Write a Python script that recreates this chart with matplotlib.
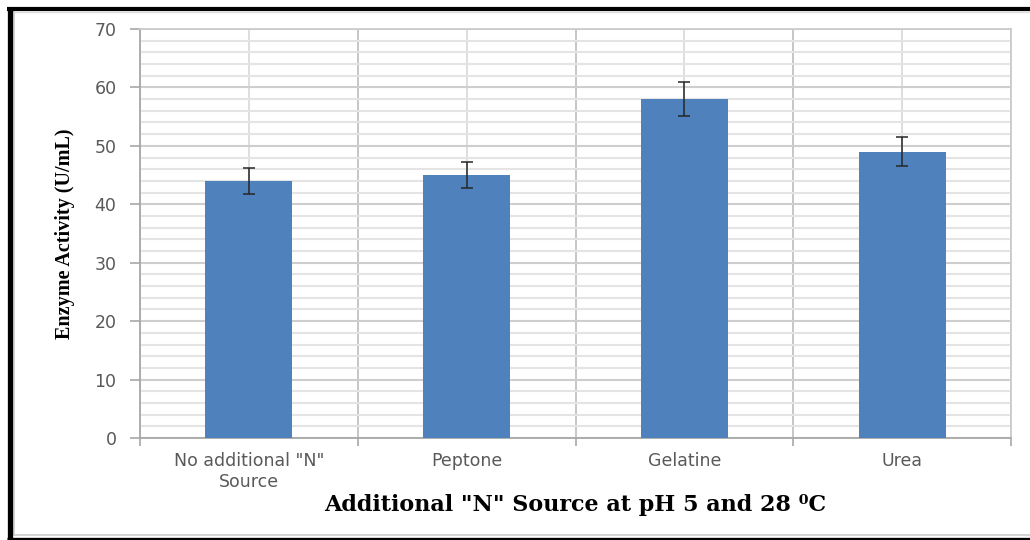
import matplotlib
matplotlib.use("Agg")
import matplotlib.pyplot as plt
from matplotlib.lines import Line2D
import numpy as np

# enzyme activity for each nitrogen source
sources = ['No additional "N"\nSource', 'Peptone', 'Gelatine', 'Urea']
activity = [44, 45, 58, 49]
errors = [2.2, 2.2, 2.9, 2.5]

bar_color = '#4F81BD'
tick_color = '#595959'

fig = plt.figure(figsize=(10.3, 5.4), dpi=100)
ax = fig.add_axes([140 / 1030, 1 - 438 / 540, 871 / 1030, 409 / 540])

x = np.arange(len(sources))
ax.bar(x, activity, width=0.4, color=bar_color, zorder=3)
ax.errorbar(x, activity, yerr=errors, fmt='none', ecolor='#262626',
            elinewidth=1.1, capsize=4.5, capthick=1.1, zorder=4)

ax.set_xlim(-0.5, len(sources) - 0.5)
ax.set_ylim(0, 70)

# horizontal grid: major every 10, minor every 2
ax.set_yticks(np.arange(0, 71, 10))
ax.set_yticks(np.arange(0, 71, 2), minor=True)
ax.grid(axis='y', which='minor', color='#e4e4e4', lw=1.5, zorder=0)
ax.grid(axis='y', which='major', color='#cecece', lw=1.5, zorder=1)

# vertical grid: category centres (light) and boundaries (darker)
ax.set_xticks(x)
ax.set_xticks(np.arange(len(sources) + 1) - 0.5, minor=True)
ax.grid(axis='x', which='major', color='#d8d8d8', lw=1.2, zorder=0)
ax.grid(axis='x', which='minor', color='#bcbcbc', lw=1.2, zorder=1)

ax.set_xticklabels(sources, fontsize=12.5, color=tick_color, family='DejaVu Sans',
                   linespacing=1.2)
ax.tick_params(axis='x', which='major', length=0, pad=10)
ax.tick_params(axis='x', which='minor', length=6, color='#a8a8a8', width=1.2)
ax.tick_params(axis='y', which='major', length=7, color='#a8a8a8', width=1.2,
               labelsize=12.5, labelcolor=tick_color, pad=10)
ax.tick_params(axis='y', which='minor', length=0)

for side in ['left', 'bottom']:
    ax.spines[side].set_color('#a8a8a8')
    ax.spines[side].set_linewidth(1.3)
for side in ['top', 'right']:
    ax.spines[side].set_color('#cccccc')
    ax.spines[side].set_linewidth(1.3)

ax.set_ylabel('Enzyme Activity (U/mL)', family='Liberation Serif',
              fontweight='bold', fontsize=14.5, labelpad=14)
fig.text(575 / 1030, 1 - 505 / 540,
         'Additional "N" Source at pH 5 and 28 \u2070C',
         family='DejaVu Serif', fontweight='bold',
         fontsize=16, ha='center', va='center')

# black frame round the figure
W, H = 1030, 540
def fline(xs, ys, lw, c):
    fig.add_artist(Line2D([v / W for v in xs], [1 - v / H for v in ys],
                          lw=lw, color=c, transform=fig.transFigure,
                          solid_capstyle='butt'))

fline([13.5, 13.5], [11, 535], 1.2, '#cccccc')
fline([13, 1030], [12, 12], 1.0, '#dddddd')
fline([13, 1030], [535, 535], 1.2, '#cccccc')
fline([9.5, 9.5], [7, 540], 3.8, 'black')
fline([7, 1030], [9, 9], 3.0, 'black')
fline([7, 1030], [538.5, 538.5], 2.4, 'black')

fig.savefig('out.png', dpi=100)
